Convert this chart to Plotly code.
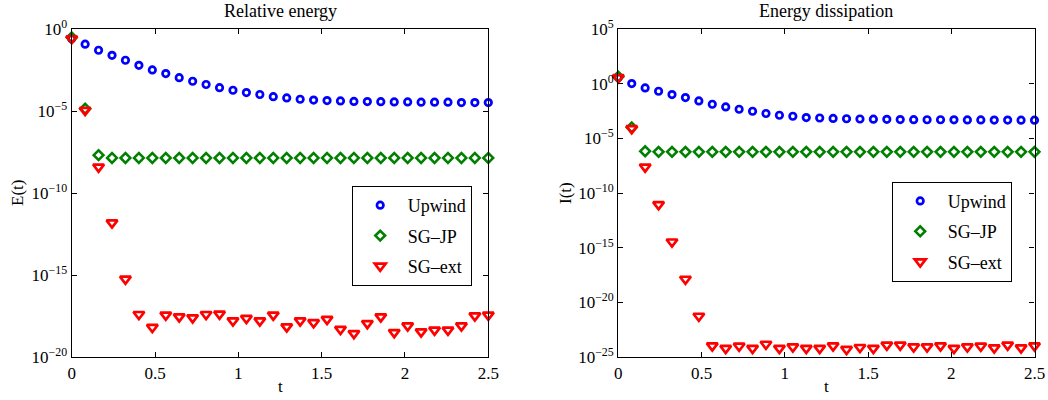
import numpy as np
import plotly.graph_objects as go

# time points
t = np.linspace(0, 2.5, 32)

# ---- Relative energy (log10 values) ----
E_upwind_log = [-0.57, -0.91, -1.28, -1.59, -1.89, -2.20, -2.48, -2.70, -2.95, -3.17,
                -3.37, -3.56, -3.72, -3.86, -3.98, -4.11, -4.19, -4.27, -4.32, -4.35,
                -4.37, -4.40, -4.41, -4.42, -4.43, -4.43, -4.45, -4.45, -4.45, -4.47,
                -4.47, -4.47]
E_sgjp_log = [-0.50, -4.85, -7.68] + [-7.85] * 29
E_sgext_log = [-0.57, -4.94, -8.40, -11.81, -15.24, -17.40, -18.19, -17.44, -17.54, -17.60,
               -17.40, -17.38, -17.79, -17.64, -17.79, -17.44, -18.15, -17.79, -17.90, -17.70,
               -18.31, -18.56, -17.95, -17.54, -18.50, -18.09, -18.46, -18.35, -18.35, -18.09,
               -17.48, -17.44]

# ---- Energy dissipation (log10 values) ----
I_upwind_log = [0.58, 0.03, -0.37, -0.67, -0.98, -1.25, -1.56, -1.86, -2.11, -2.32,
                -2.50, -2.71, -2.87, -2.96, -3.08, -3.12, -3.16, -3.19, -3.21, -3.23,
                -3.24, -3.26, -3.27, -3.28, -3.28, -3.29, -3.30, -3.30, -3.31, -3.31,
                -3.32, -3.32]
I_sgjp_log = [0.65, -3.98, -6.16] + [-6.22] * 29
I_sgext_log = [0.58, -4.09, -7.60, -11.04, -14.46, -17.87, -21.26, -23.97, -24.20, -24.00,
               -24.20, -23.82, -24.20, -24.07, -24.20, -24.20, -23.97, -24.30, -24.12, -24.20,
               -23.90, -23.90, -24.07, -24.07, -23.97, -24.20, -24.07, -24.00, -24.15, -23.90,
               -24.15, -23.97]

x_ticks = [0, 0.5, 1, 1.5, 2, 2.5]
x_ticktext = ["0", "0.5", "1", "1.5", "2", "2.5"]
E_ticks_exp = [0, -5, -10, -15, -20]
I_ticks_exp = [5, 0, -5, -10, -15, -20, -25]

names = ["Upwind", "SG\u2013JP", "SG\u2013ext"]
colors = ["#0000FF", "#008000", "#FF0000"]
symbols = ["circle-open", "diamond-open", "triangle-down-open"]
sizes = [6.5, 7.5, 9.5]
lwidths = [2.7, 2.6, 2.7]

FONT = "Liberation Serif, Times New Roman, serif"

def pow10(v):
    return [10.0 ** x for x in v]

def exptext(e):
    s = str(e).replace("-", "\u2212")
    return "10<sup>" + s + "</sup>"

fig = go.Figure()

left = [E_upwind_log, E_sgjp_log, E_sgext_log]
right = [I_upwind_log, I_sgjp_log, I_sgext_log]

for i in range(3):
    fig.add_trace(go.Scatter(
        x=t, y=pow10(left[i]), mode="markers", name=names[i],
        xaxis="x", yaxis="y", legend="legend", legendgroup="L%d" % i,
        cliponaxis=False,
        marker=dict(symbol=symbols[i], size=sizes[i], color=colors[i],
                    line=dict(width=lwidths[i], color=colors[i]))))
for i in range(3):
    fig.add_trace(go.Scatter(
        x=t, y=pow10(right[i]), mode="markers", name=names[i],
        xaxis="x2", yaxis="y2", legend="legend2", legendgroup="R%d" % i,
        cliponaxis=False,
        marker=dict(symbol=symbols[i], size=sizes[i], color=colors[i],
                    line=dict(width=lwidths[i], color=colors[i]))))

ytop = 1 - 29.3 / 400
ybot = 1 - 357 / 400

axis_common = dict(showline=True, linecolor="black", linewidth=1.3, mirror="ticks",
                   ticks="inside", ticklen=5, tickwidth=1, tickcolor="black",
                   showgrid=False, zeroline=False, automargin=False,
                   tickfont=dict(family=FONT, size=17, color="black"))

fig.update_layout(
    template="none",
    width=1048, height=400, autosize=False,
    margin=dict(l=0, r=0, t=0, b=0, pad=0),
    paper_bgcolor="white", plot_bgcolor="white",
    font=dict(family=FONT, color="black"),
    xaxis=dict(domain=[71.7 / 1048, 488.3 / 1048], range=[0, 2.5],
               tickvals=x_ticks, ticktext=x_ticktext, anchor="y", **axis_common),
    yaxis=dict(domain=[ybot, ytop], type="log", range=[-20, 0],
               tickvals=pow10(E_ticks_exp), ticktext=[exptext(e) for e in E_ticks_exp],
               anchor="x", **axis_common),
    xaxis2=dict(domain=[618.3 / 1048, 1034.5 / 1048], range=[0, 2.5],
                tickvals=x_ticks, ticktext=x_ticktext, anchor="y2", **axis_common),
    yaxis2=dict(domain=[ybot, ytop], type="log", range=[-25, 5],
                tickvals=pow10(I_ticks_exp), ticktext=[exptext(e) for e in I_ticks_exp],
                anchor="x2", **axis_common),
    legend=dict(x=351.7 / 1048, y=1 - 186 / 400, xanchor="left", yanchor="top",
                bordercolor="black", borderwidth=1, bgcolor="white",
                font=dict(family=FONT, size=18, color="black"),
                traceorder="grouped", tracegroupgap=4, itemwidth=45),
    legend2=dict(x=891.7 / 1048, y=1 - 181.7 / 400, xanchor="left", yanchor="top",
                 bordercolor="black", borderwidth=1, bgcolor="white",
                 font=dict(family=FONT, size=18, color="black"),
                 traceorder="grouped", tracegroupgap=4, itemwidth=45),
    showlegend=True,
)

ann_font = dict(family=FONT, size=17, color="black")
title_font = dict(family=FONT, size=18, color="black")
fig.add_annotation(text="Relative energy", x=280 / 1048, y=1 - 11 / 400, xref="paper", yref="paper",
                   showarrow=False, font=title_font, xanchor="center", yanchor="middle")
fig.add_annotation(text="Energy dissipation", x=826 / 1048, y=1 - 11 / 400, xref="paper", yref="paper",
                   showarrow=False, font=title_font, xanchor="center", yanchor="middle")
fig.add_annotation(text="E(t)", x=18 / 1048, y=1 - 193 / 400, xref="paper", yref="paper",
                   showarrow=False, font=ann_font, textangle=-90, xanchor="center", yanchor="middle")
fig.add_annotation(text="I(t)", x=566 / 1048, y=1 - 193 / 400, xref="paper", yref="paper",
                   showarrow=False, font=ann_font, textangle=-90, xanchor="center", yanchor="middle")
fig.add_annotation(text="t", x=280 / 1048, y=1 - 386 / 400, xref="paper", yref="paper",
                   showarrow=False, font=ann_font, xanchor="center", yanchor="middle")
fig.add_annotation(text="t", x=826 / 1048, y=1 - 386 / 400, xref="paper", yref="paper",
                   showarrow=False, font=ann_font, xanchor="center", yanchor="middle")

fig.write_html("out.html",
               config={"displayModeBar": False},
               post_script="document.body.style.margin='0';document.body.style.overflow='hidden';")
